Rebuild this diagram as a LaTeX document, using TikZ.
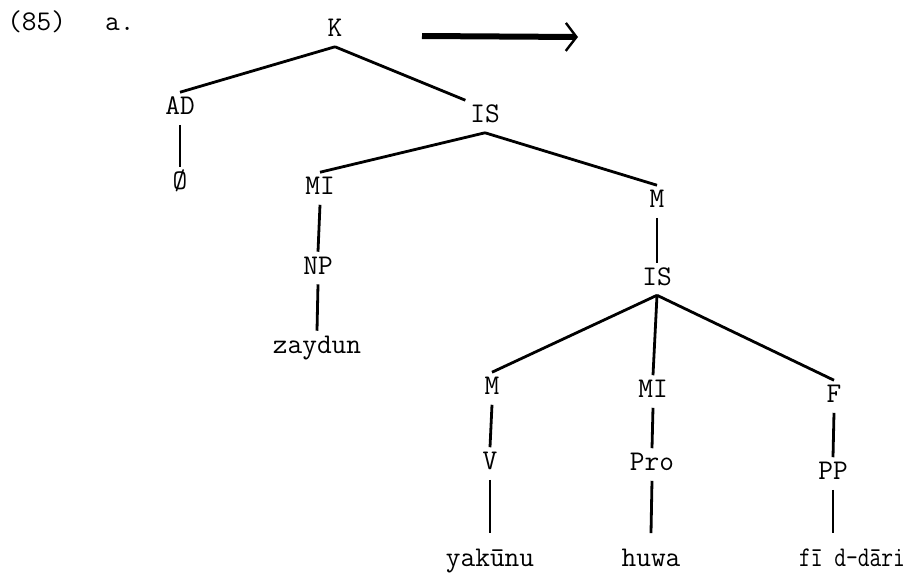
\documentclass[tikz,border=0pt]{standalone}
\usepackage{fontspec}
\usepackage{graphicx}
\usepackage{tikz}
\usetikzlibrary{arrows.meta, positioning}
\newcommand{\treefont}{\ttfamily\fontsize{21.4}{24}\selectfont\addfontfeature{FakeBold=1.6}}

\begin{document}
\begin{tikzpicture}[x=0.75pt, y=-0.75pt,
    lbl/.style={font=\treefont, anchor=base, inner sep=3.5pt, text height=13pt, text depth=4pt},
    word/.style={lbl, text height=21pt},
    branch/.style={line width=2.1pt}]
    \useasboundingbox (0,0) rectangle (908,572);
    \node[lbl, anchor=base west, inner sep=0pt] (num) at (7,30) {(85)};
    \node[lbl, inner sep=0pt, right=29pt of num] (sub) {a.};
    \node[lbl] (k) at (335,36.5) {K};
    \coordinate (arrowtail) at (422,36);
    \coordinate (arrowtip) at (578,37);
    \draw[line width=4.5pt, -{Straight Barb[length=8pt, width=21pt, line width=1.8pt]}] (arrowtail) -- (arrowtip);
    \node[lbl] (ad) at (180,114.5) {AD};
    \node[lbl] (isa) at (485,122.5) {IS};
    \node[lbl] (nul) at (180,189.5) {Ø};
    \node[lbl] (mia) at (320,194.5) {MI};
    \node[lbl] (ma) at (657,207.5) {M};
    \node[lbl] (np) at (318,274) {NP};
    \node[lbl] (isb) at (657,285) {IS};
    \node[lbl] (zaydun) at (317,353) {zaydun};
    \node[lbl] (mb) at (492,394.5) {M};
    \node[lbl] (mib) at (653,397.5) {MI};
    \node[lbl] (f) at (834,402.5) {F};
    \node[lbl] (v) at (490,469.5) {V};
    \node[lbl] (pro) at (652,470.5) {Pro};
    \node[lbl] (pp) at (833,479.5) {PP};
    \node[word] (yakunu) at (490,566) {yakūnu};
    \node[word] (huwa) at (651,566) {huwa};
    \node[word] (dari) at (852,566) {\scalebox{0.8}[1]{fī d-dāri}};
    % branches
    \draw[branch] (k.south) -- (ad.north);
    \draw[branch] (k.south) -- (isa.north west);
    \draw[branch] (ad.south) -- (nul.north);
    \draw[branch] (isa.south) -- (mia.north);
    \draw[branch] (isa.south) -- (ma.north);
    \draw[branch] (mia.south) -- (np.north);
    \draw[branch] (np.south) -- (zaydun.north);
    \draw[branch] (ma.south) -- (isb.north);
    \draw[branch] (isb.south) -- (mb.north);
    \draw[branch] (isb.south) -- (mib.north);
    \draw[branch] (isb.south) -- (f.north);
    \draw[branch] (mb.south) -- (v.north);
    \draw[branch] (mib.south) -- (pro.north);
    \draw[branch] (f.south) -- (pp.north);
    \draw[branch] (v.south) -- (yakunu.north);
    \draw[branch] (pro.south) -- (huwa.north);
    \draw[branch] (pp.south) -- (pp.south |- dari.north);
\end{tikzpicture}
\end{document}
